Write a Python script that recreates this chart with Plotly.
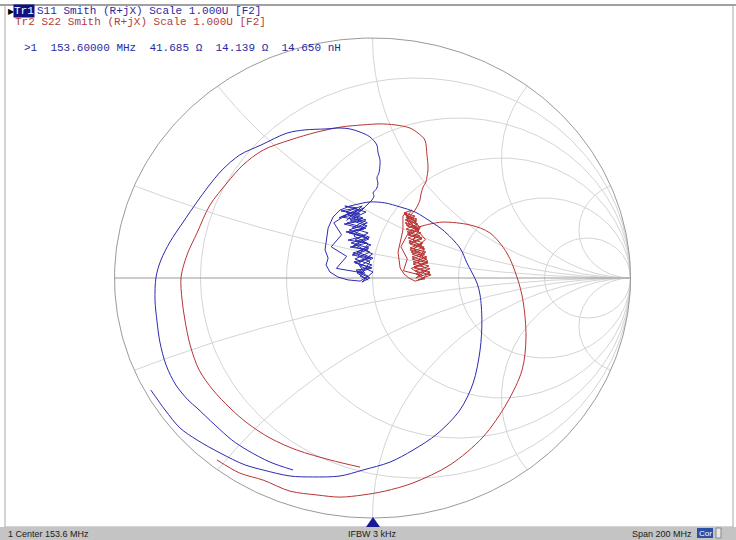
import numpy as np
import plotly.graph_objects as go

# ---------------- data (reflection coefficient, real / imaginary) ----------------
# S11 trace, read from the picture, in sweep order
s11_outer_re = [-0.859, -0.804, -0.746, -0.680, -0.591, -0.494, -0.424, -0.320, -0.231, -0.126,
                -0.037, 0.068, 0.157, 0.250, 0.339, 0.390, 0.417, 0.424, 0.417, 0.405,
                0.366, 0.339, 0.273, 0.234, 0.165, 0.107, 0.048, -0.010, -0.056]
s11_outer_im = [-0.467, -0.550, -0.625, -0.675, -0.729, -0.779, -0.800, -0.825, -0.829, -0.825,
                -0.800, -0.767, -0.717, -0.650, -0.550, -0.438, -0.300, -0.175, -0.071, -0.021,
                0.063, 0.125, 0.200, 0.229, 0.275, 0.296, 0.313, 0.317, 0.308]
s11_cluster_re = [-0.056, -0.087, -0.126, -0.153, -0.172, -0.180, -0.184, -0.172, -0.180, -0.165, -0.134,
                  -0.095, -0.048, -0.017, -0.064, -0.006, -0.072, -0.014, -0.079, -0.017, -0.087,
                  -0.021, -0.095, -0.029, -0.103, -0.033, -0.110, -0.041, -0.118, -0.048, -0.122,
                  -0.060, -0.107, -0.025, -0.087, -0.021, -0.083, -0.014, -0.076, -0.010, -0.068,
                  -0.002, -0.060, -0.010, -0.041, 0.002, -0.048, 0.002, -0.060, -0.006, -0.068,
                  -0.017, -0.079, -0.025, -0.095, -0.033, -0.072, -0.020, -0.090, -0.012, -0.070,
                  0.000, -0.055, -0.030, -0.140, -0.100, -0.160, -0.120, -0.150, -0.090, -0.130,
                  -0.060, -0.100, -0.040,
                  -0.103, -0.037, -0.099, -0.025, -0.091, -0.021, -0.083, -0.014, -0.076, -0.006,
                  -0.068, -0.002, -0.060, -0.017, -0.048, -0.010, -0.056, -0.017, -0.072, -0.029,
                  -0.087, -0.041, -0.002]
s11_cluster_im = [0.308, 0.300, 0.283, 0.254, 0.208, 0.158, 0.117, 0.083, 0.054, 0.025, 0.004,
                  -0.008, -0.013, 0.008, 0.033, 0.042, 0.067, 0.083, 0.096, 0.117, 0.129,
                  0.146, 0.158, 0.175, 0.192, 0.204, 0.225, 0.238, 0.254, 0.267, 0.279,
                  0.292, 0.300, 0.275, 0.242, 0.217, 0.188, 0.163, 0.133, 0.108, 0.079,
                  0.054, 0.025, 0.000, -0.017, 0.025, 0.050, 0.083, 0.108, 0.138, 0.158,
                  0.188, 0.208, 0.242, 0.263, 0.292, 0.255, 0.230, 0.200, 0.170, 0.140,
                  0.100, 0.060, 0.020, 0.040, 0.090, 0.130, 0.180, 0.230, 0.270, 0.250,
                  0.285, 0.240, 0.300,
                  0.275, 0.250, 0.229, 0.208, 0.188, 0.167, 0.146, 0.125, 0.104, 0.083,
                  0.063, 0.042, 0.021, -0.008, 0.008, 0.067, 0.092, 0.142, 0.175, 0.225,
                  0.258, 0.283, 0.325]
s11_inner_re = [-0.002, 0.006, 0.002, 0.017, 0.021, 0.017, 0.025, 0.029, 0.029, 0.021, 0.017,
                -0.010, -0.048, -0.087, -0.126, -0.184, -0.262, -0.331, -0.432, -0.514, -0.583,
                -0.638, -0.680, -0.734, -0.785, -0.820, -0.839, -0.843, -0.835, -0.824, -0.800,
                -0.762, -0.715, -0.680, -0.610, -0.545, -0.486, -0.397, -0.308]
s11_inner_im = [0.325, 0.342, 0.354, 0.375, 0.396, 0.417, 0.438, 0.471, 0.492, 0.525, 0.554,
                0.588, 0.608, 0.621, 0.625, 0.621, 0.617, 0.604, 0.554, 0.513, 0.450,
                0.379, 0.317, 0.233, 0.150, 0.075, 0.004, -0.092, -0.183, -0.267, -0.363,
                -0.446, -0.508, -0.542, -0.613, -0.675, -0.717, -0.767, -0.800]

# S22 trace, in sweep order
s22_outer_re = [-0.603, -0.514, -0.424, -0.320, -0.215, -0.126, -0.037, 0.048, 0.157, 0.300,
                0.428, 0.521, 0.580, 0.595, 0.583, 0.560, 0.521, 0.455, 0.378, 0.273,
                0.223, 0.165]
s22_outer_im = [-0.758, -0.813, -0.842, -0.888, -0.904, -0.913, -0.904, -0.888, -0.854, -0.779,
                -0.663, -0.521, -0.383, -0.246, -0.092, 0.004, 0.104, 0.188, 0.221, 0.233,
                0.225, 0.208]
s22_cluster_re = [0.165, 0.138, 0.130,
                  0.118, 0.118, 0.107, 0.099, 0.103, 0.107, 0.122, 0.141, 0.165, 0.192,
                  0.223, 0.161, 0.215, 0.153, 0.207, 0.145, 0.196, 0.138, 0.188, 0.130,
                  0.176, 0.126, 0.165, 0.122, 0.153, 0.134, 0.172, 0.130, 0.180, 0.138,
                  0.192, 0.141, 0.200, 0.149, 0.211, 0.157, 0.219, 0.165, 0.227, 0.176,
                  0.203, 0.168, 0.223, 0.157, 0.211, 0.153, 0.203, 0.145, 0.192, 0.138,
                  0.180, 0.134, 0.172, 0.130, 0.150, 0.205, 0.160, 0.215, 0.150, 0.195,
                  0.120, 0.135, 0.110, 0.140, 0.185, 0.150, 0.170,
                  0.122, 0.161, 0.126, 0.172, 0.134, 0.184, 0.141, 0.192, 0.145, 0.203,
                  0.153, 0.215, 0.161, 0.223, 0.168, 0.211, 0.176, 0.200, 0.157, 0.184,
                  0.138, 0.161, 0.157, 0.165]
s22_cluster_im = [0.208, 0.233, 0.275,
                  0.258, 0.200, 0.146, 0.108, 0.075, 0.042, 0.017, 0.000, -0.013, -0.004,
                  0.025, 0.046, 0.067, 0.088, 0.108, 0.125, 0.146, 0.167, 0.188, 0.204,
                  0.225, 0.242, 0.258, 0.271, 0.283, 0.258, 0.246, 0.221, 0.204, 0.183,
                  0.167, 0.146, 0.129, 0.108, 0.088, 0.067, 0.050, 0.029, 0.013, -0.008,
                  -0.004, 0.017, 0.038, 0.058, 0.079, 0.100, 0.121, 0.142, 0.163, 0.179,
                  0.200, 0.217, 0.238, 0.254, 0.230, 0.160, 0.120, 0.070, 0.040, 0.010,
                  0.030, 0.080, 0.130, 0.190, 0.210, 0.250, 0.230,
                  0.267, 0.250, 0.229, 0.213, 0.192, 0.175, 0.154, 0.138, 0.117, 0.100,
                  0.079, 0.063, 0.042, 0.021, 0.000, 0.033, 0.067, 0.117, 0.158, 0.208,
                  0.250, 0.275, 0.271, 0.283]
s22_inner_re = [0.165, 0.176, 0.184, 0.188, 0.196, 0.207, 0.211, 0.215, 0.215, 0.211, 0.203,
                0.176, 0.145, 0.087, 0.029, -0.037, -0.122, -0.215, -0.320, -0.424, -0.502,
                -0.564, -0.630, -0.680, -0.719, -0.742, -0.738, -0.727, -0.707, -0.672, -0.618,
                -0.552, -0.486, -0.397, -0.293, -0.165, -0.048]
s22_inner_im = [0.283, 0.304, 0.325, 0.350, 0.379, 0.400, 0.421, 0.450, 0.471, 0.513, 0.575,
                0.604, 0.625, 0.638, 0.642, 0.638, 0.629, 0.608, 0.575, 0.533, 0.471,
                0.396, 0.304, 0.188, 0.096, 0.004, -0.092, -0.175, -0.279, -0.383, -0.467,
                -0.542, -0.604, -0.667, -0.717, -0.758, -0.788]

# Smith grid values
grid_r = [0.2, 0.5, 1.0, 2.0, 5.0]
grid_x = [0.2, 0.5, 1.0, 2.0, 5.0]

# header / status texts
trace_labels = ["S11 Smith (R+jX) Scale 1.000U [F2]", "Tr2 S22 Smith (R+jX) Scale 1.000U [F2]"]
marker_text = ">1  153.60000 MHz  41.685 \u03a9  14.139 \u03a9  14.650 nH"
status_texts = ["1 Center 153.6 MHz", "IFBW 3 kHz", "Span 200 MHz"]

# ---------------- geometry ----------------
W, H = 736, 540
CX, CY, RX, RY = 372.5, 278.0, 258.0, 240.0
x_range = [(0 - CX) / RX, (W - CX) / RX]
y_range = [(CY - H) / RY, CY / RY]

BLUE = "#2b2bb0"
RED = "#b83434"
GRID = "#d4d4d4"
EDGE = "#9a9a9a"

fig = go.Figure()

def add_line(xs, ys, color, width=1.0, shape="linear"):
    fig.add_trace(go.Scatter(x=xs, y=ys, mode="lines", hoverinfo="skip",
                             line=dict(color=color, width=width, shape=shape, smoothing=0.9)))

# constant resistance circles
t = np.linspace(0, 2 * np.pi, 400)
for r in grid_r:
    c, rad = r / (1 + r), 1 / (1 + r)
    add_line(c + rad * np.cos(t), rad * np.sin(t), GRID)
# constant reactance arcs
rr = np.concatenate([[0.0], np.logspace(-3, 4, 500)])
for xv in grid_x:
    for s in (1, -1):
        z = rr + 1j * s * xv
        g = (z - 1) / (z + 1)
        add_line(g.real, g.imag, GRID)
# real axis and outer circle
add_line([-1, 1], [0, 0], EDGE)
add_line(np.cos(t), np.sin(t), EDGE)

# traces (smooth sweeps, raw zig-zag in the clustered region)
add_line(s22_outer_re, s22_outer_im, RED, 1.0, "spline")
add_line(s22_cluster_re, s22_cluster_im, RED, 1.0)
add_line(s22_inner_re, s22_inner_im, RED, 1.0, "spline")
add_line(s11_outer_re, s11_outer_im, BLUE, 1.0, "spline")
add_line(s11_cluster_re, s11_cluster_im, BLUE, 1.0)
add_line(s11_inner_re, s11_inner_im, BLUE, 1.0, "spline")

def px(x):
    return x / W

def py(y):
    return 1 - y / H

shapes = [
    # outer frame
    dict(type="rect", xref="paper", yref="paper", x0=px(5), x1=px(733), y0=py(527), y1=py(5),
         line=dict(color="#a8a8a8", width=1)),
    dict(type="line", xref="paper", yref="paper", x0=0, x1=1, y0=py(5), y1=py(5),
         line=dict(color="#a0a0a0", width=2)),
    # status bar
    dict(type="rect", xref="paper", yref="paper", x0=0, x1=1, y0=0, y1=py(527),
         fillcolor="#c4c4c4", line=dict(width=0)),
    dict(type="rect", xref="paper", yref="paper", x0=px(697), x1=px(713), y0=py(538), y1=py(528),
         fillcolor="#2850a8", line=dict(width=0)),
    dict(type="rect", xref="paper", yref="paper", x0=px(716), x1=px(721), y0=py(538), y1=py(528),
         fillcolor="#e8e8e8", line=dict(color="#888888", width=1)),
    # stimulus indicator triangle
    dict(type="path", xref="paper", yref="paper",
         path=f"M {px(366)} {py(527)} L {px(380)} {py(527)} L {px(373)} {py(517)} Z",
         fillcolor="#1a1a96", line=dict(width=0)),
]

MONO = "Liberation Mono"
ann = [
    dict(text="\u25b6", x=px(6), y=py(11), font=dict(family="DejaVu Sans", size=8, color="#000000")),
    dict(text="Tr1", x=px(13), y=py(11), bgcolor="#101080", borderpad=0,
         font=dict(family=MONO, size=11, color="#ffffff")),
    dict(text=trace_labels[0], x=px(35), y=py(11), font=dict(family=MONO, size=11, color="#2a2aa0")),
    dict(text=trace_labels[1], x=px(13), y=py(22), font=dict(family=MONO, size=11, color="#b43c3c")),
    dict(text=marker_text.replace(" ", "\u00a0"), x=px(22), y=py(48),
         font=dict(family=MONO, size=11, color="#2a2aa0")),
    dict(text=status_texts[0], x=px(6), y=py(534), font=dict(family="Liberation Sans", size=9, color="#202020")),
    dict(text=status_texts[1], x=px(373), y=py(534), xanchor="center",
         font=dict(family="Liberation Sans", size=9, color="#202020")),
    dict(text=status_texts[2], x=px(694), y=py(534), xanchor="right",
         font=dict(family="Liberation Sans", size=9, color="#202020")),
    dict(text="Cor", x=px(705), y=py(533), xanchor="center",
         font=dict(family="Liberation Sans", size=8, color="#ffffff")),
]
for a in ann:
    a.setdefault("xanchor", "left")
    a.update(xref="paper", yref="paper", yanchor="middle", showarrow=False)

fig.update_layout(
    width=W, height=H, margin=dict(l=0, r=0, t=0, b=0),
    paper_bgcolor="white", plot_bgcolor="white", showlegend=False,
    xaxis=dict(range=x_range, visible=False, fixedrange=True),
    yaxis=dict(range=y_range, visible=False, fixedrange=True),
    shapes=shapes, annotations=ann,
)
fig.write_html("out.html", config={"displayModeBar": False},
               post_script="document.body.style.margin='0';document.body.style.overflow='hidden';")
